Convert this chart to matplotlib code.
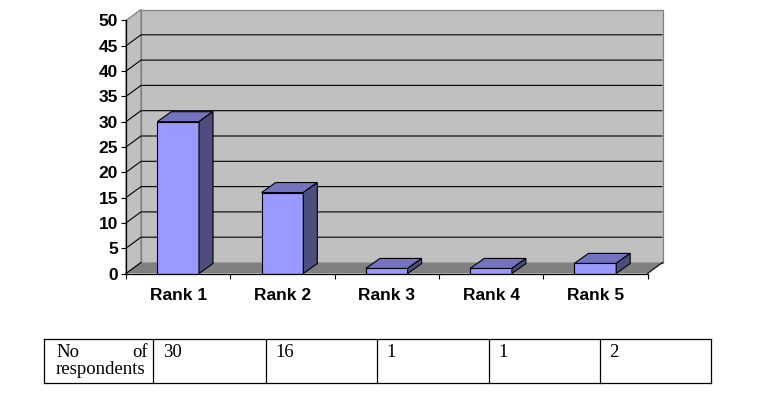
import matplotlib
matplotlib.use("Agg")
import matplotlib.pyplot as plt
from matplotlib.patches import Polygon
import numpy as np

# ---- data ----
categories = ["Rank 1", "Rank 2", "Rank 3", "Rank 4", "Rank 5"]
values = [30, 16, 1, 1, 2]
yticks = [0, 5, 10, 15, 20, 25, 30, 35, 40, 45, 50]
table_header = "No of respondents"

# ---- style ----
W, H = 760, 394
FRONT = "#9999FF"
TOP = "#7373BF"
SIDE = "#4D4D80"
WALL = "#C0C0C0"
WALL_EDGE = "#808080"
FLOOR = "#808080"
SANS = ["Liberation Sans", "DejaVu Sans"]
SERIF = ["Liberation Serif", "DejaVu Serif"]

fig = plt.figure(figsize=(W / 100, H / 100), dpi=100)


def fx(px):
    return px / W


def fy(py):
    return 1 - py / H


ax = fig.add_axes([fx(126), fy(273.5), fx(647.5) - fx(126), fy(20.5) - fy(273.5)])
n = len(categories)
x = np.arange(n)
ymax = yticks[-1]
ax.set_xlim(-0.5, n - 0.5)
ax.set_ylim(0, ymax)
ax.patch.set_visible(False)

# depth offsets (pixels -> data units)
upx = ax.bbox.width / n
upy = ax.bbox.height / ymax
DX, DY = 15 / upx, 11 / upy
BDX, BDY = 14 / upx, 10 / upy
x0, x1 = -0.5, n - 0.5

# walls and floor
ax.add_patch(Polygon([(x0 + DX, DY), (x1 + DX, DY), (x1 + DX, ymax + DY), (x0 + DX, ymax + DY)],
                     closed=True, fc=WALL, ec=WALL_EDGE, lw=0.9, zorder=0.5, clip_on=False))
ax.add_patch(Polygon([(x0, 0), (x0 + DX, DY), (x0 + DX, ymax + DY), (x0, ymax)],
                     closed=True, fc=WALL, ec=WALL_EDGE, lw=0.9, zorder=0.5, clip_on=False))
ax.add_patch(Polygon([(x0, 0), (x1, 0), (x1 + DX, DY), (x0 + DX, DY)],
                     closed=True, fc=FLOOR, ec="none", zorder=0.6, clip_on=False))

# gridlines
for v in yticks[1:-1]:
    ax.plot([x0, x0 + DX, x1 + DX], [v, v + DY, v + DY], color="black", lw=0.8,
            zorder=1, clip_on=False, solid_capstyle="butt")
ax.plot([x0, x0 + DX], [0, DY], color="black", lw=0.8, zorder=1, clip_on=False)
ax.plot([x1, x1 + DX], [0, DY], color="black", lw=0.8, zorder=1, clip_on=False)

# bars
bw = 0.4
ax.bar(x, values, width=bw, color=FRONT, edgecolor="black", lw=0.8, zorder=5)
for xi, v in zip(x, values):
    l, r = xi - bw / 2, xi + bw / 2
    ax.add_patch(Polygon([(l, v), (r, v), (r + BDX, v + BDY), (l + BDX, v + BDY)], closed=True,
                         fc=TOP, ec="black", lw=0.8, zorder=5, clip_on=False))
    ax.add_patch(Polygon([(r, 0), (r + BDX, BDY), (r + BDX, v + BDY), (r, v)], closed=True,
                         fc=SIDE, ec="black", lw=0.8, zorder=5, clip_on=False))

# axes
for s in ["top", "right"]:
    ax.spines[s].set_visible(False)
for s in ["left", "bottom"]:
    ax.spines[s].set_color("black")
    ax.spines[s].set_linewidth(0.9)
    ax.spines[s].set_zorder(6)

ax.set_yticks(yticks)
ax.set_yticklabels([str(t) for t in yticks], fontsize=12.5, fontweight="bold", family=SANS)
ax.tick_params(axis="y", length=3.8, width=0.8, pad=2.0, direction="out", colors="black")
ax.set_xticks(x)
ax.set_xticklabels(categories, fontsize=12.5, fontweight="bold", family=SANS)
ax.set_xticks(np.arange(x0, x1 + 0.01, 1.0), minor=True)
ax.tick_params(axis="x", which="major", length=0, pad=10.5)
ax.tick_params(axis="x", which="minor", length=3.8, width=0.8, direction="out")

# ---- table ----
tl, tr, tt, tb = 44, 710.5, 338.5, 382.5
tax = fig.add_axes([fx(tl), fy(tb), fx(tr) - fx(tl), fy(tt) - fy(tb)])
tax.set_xlim(0, tr - tl)
tax.set_ylim(tb - tt, 0)
tax.axis("off")
col_edges = [0, 109.3, 221.5, 333, 444.5, 556, tr - tl]
for e in col_edges:
    tax.plot([e, e], [0, tb - tt], color="black", lw=0.9, clip_on=False)
for yy in [0, tb - tt]:
    tax.plot([0, tr - tl], [yy, yy], color="black", lw=0.9, clip_on=False)

FS = 13.5
words = table_header.split()
first_line = words[:-1]
tax.text(12, 356.7 - tt, first_line[0], family=SERIF, fontsize=FS, va="baseline", ha="left")
tax.text(col_edges[1] - 5, 356.7 - tt, first_line[1], family=SERIF, fontsize=FS, va="baseline", ha="right")
tax.text(12, 374.3 - tt, words[-1], family=SERIF, fontsize=FS, va="baseline", ha="left")
for i, v in enumerate(values):
    tax.text(col_edges[i + 1] + 9.5, 356.7 - tt, str(v), family=SERIF, fontsize=FS,
             va="baseline", ha="left")

fig.savefig("out.png", dpi=100)
